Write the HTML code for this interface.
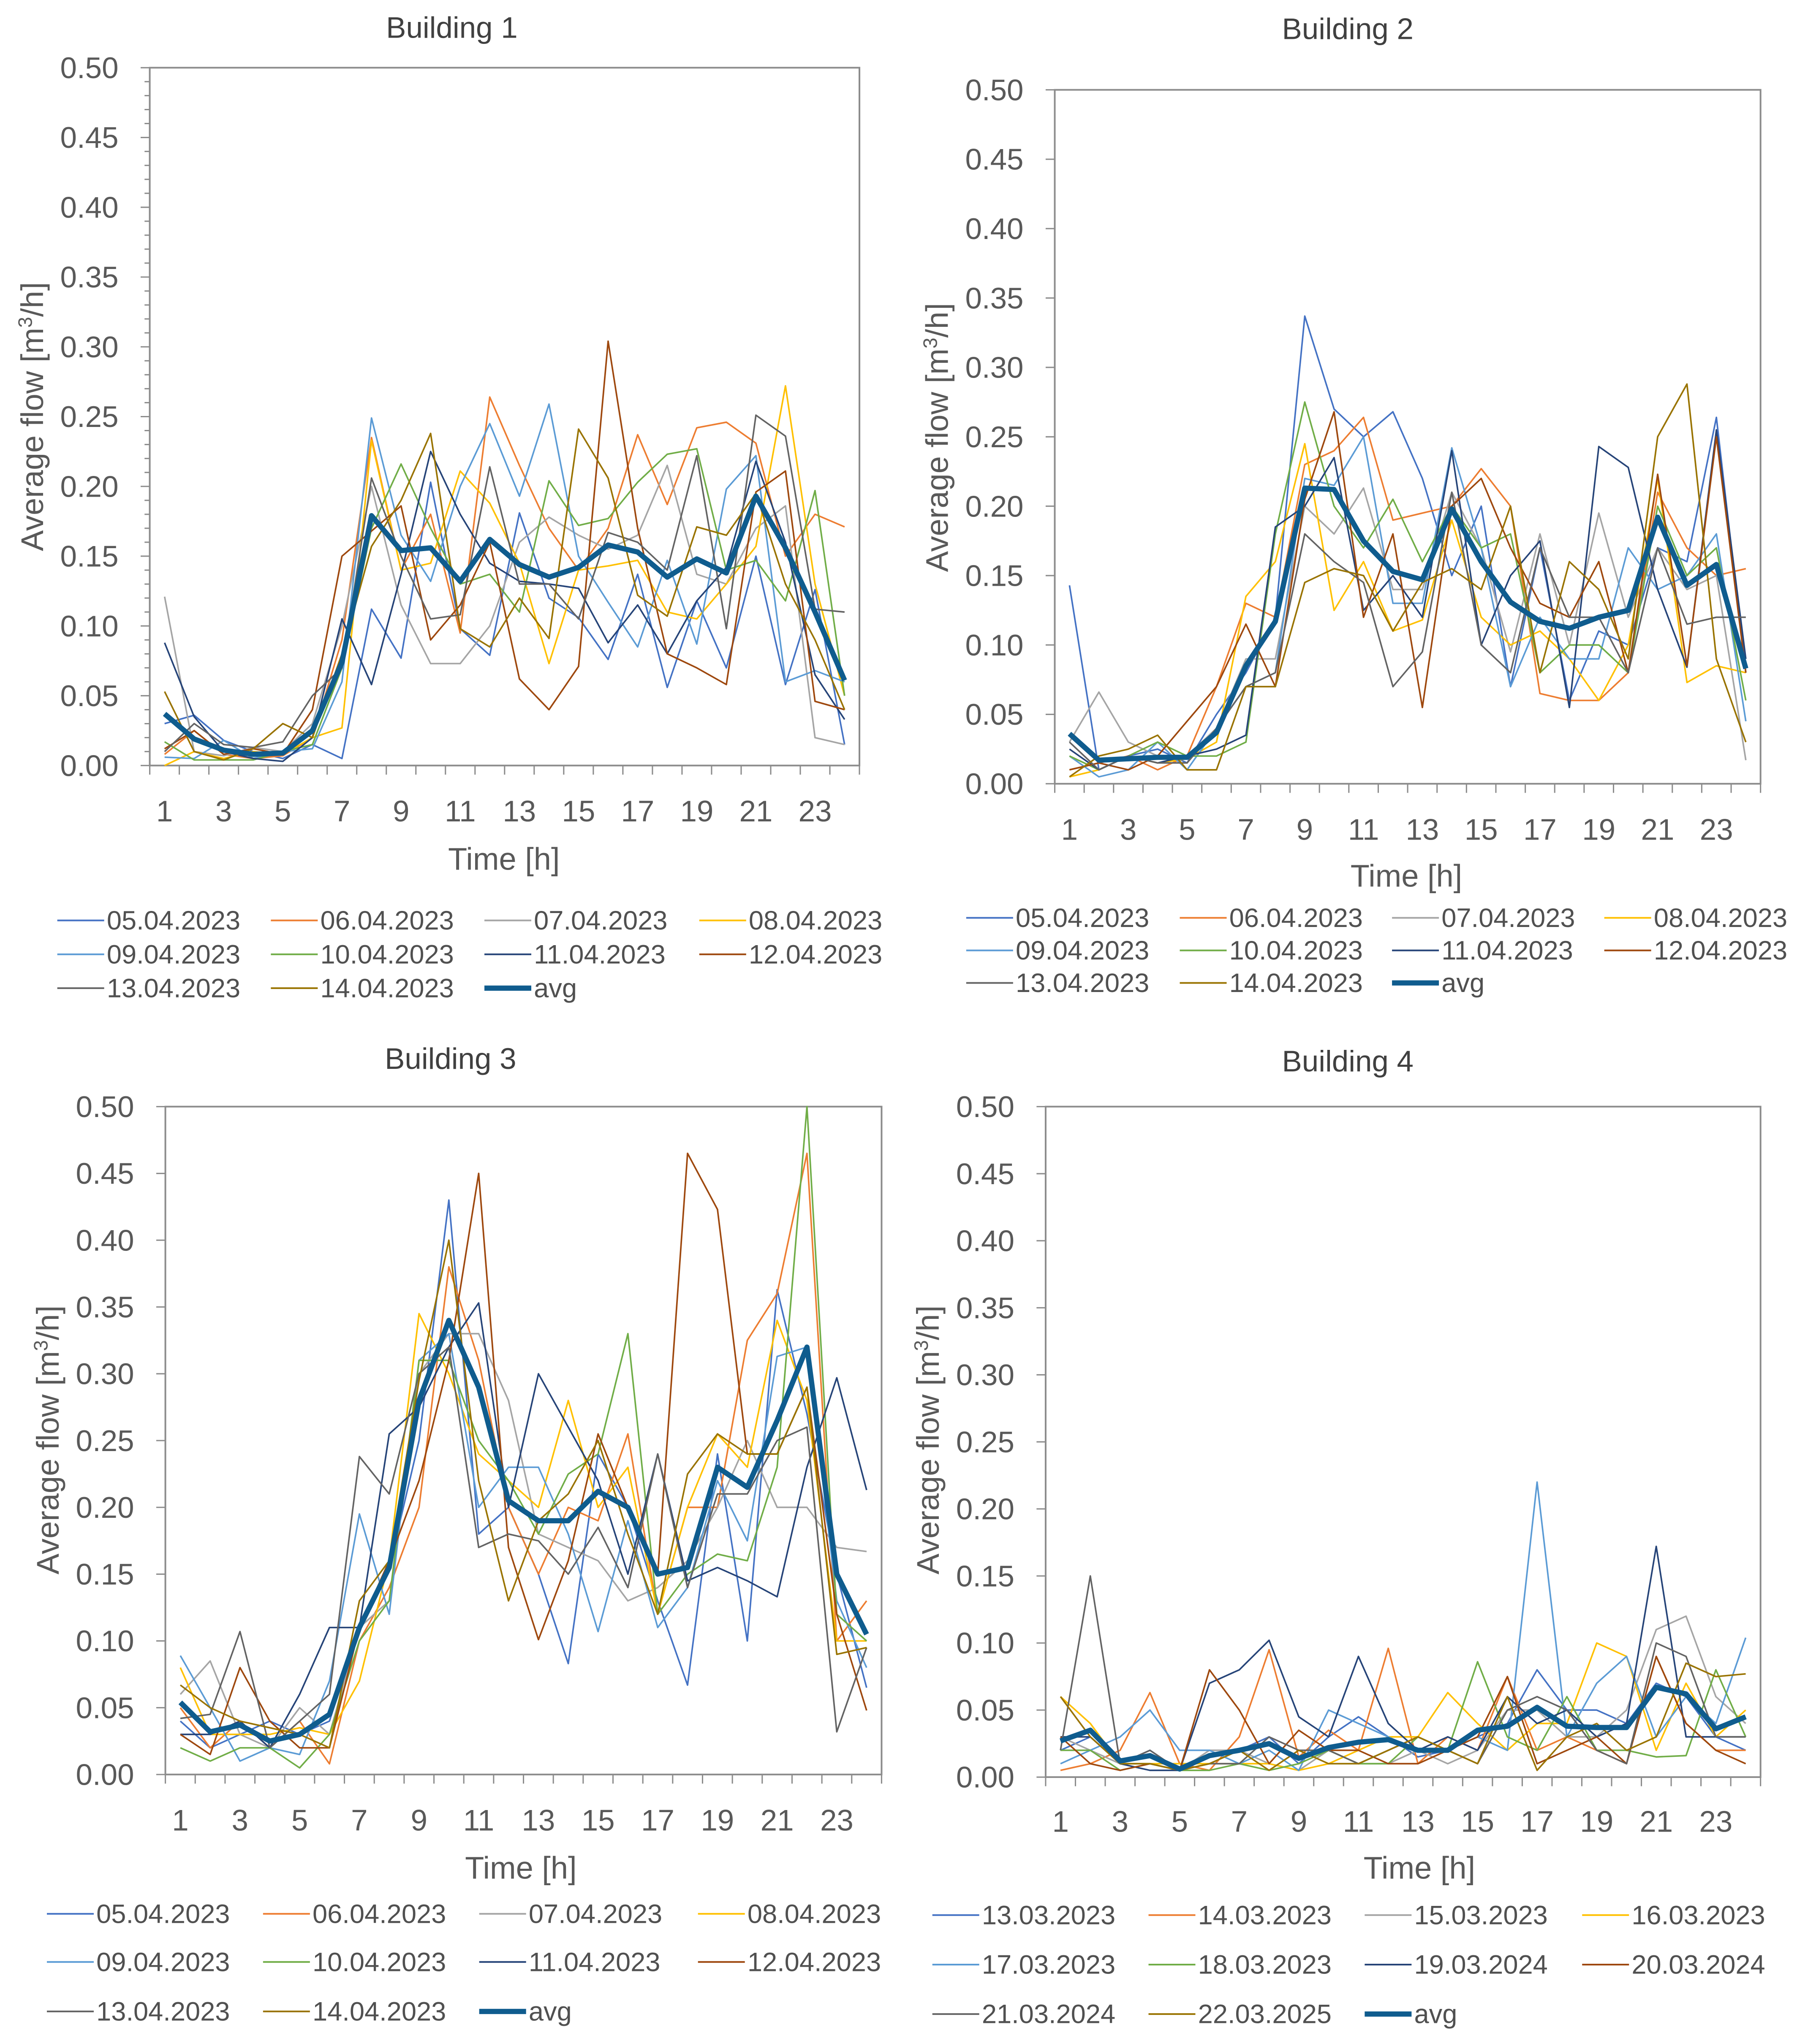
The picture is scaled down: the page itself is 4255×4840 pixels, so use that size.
<!DOCTYPE html>
<html><head><meta charset="utf-8">
<style>
html,body{margin:0;padding:0;background:#fff;}
svg{display:block;font-family:"Liberation Sans",sans-serif;}
</style></head>
<body>
<svg id="chart" width="4255" height="4840" viewBox="0 0 1380 1570" preserveAspectRatio="none" xmlns="http://www.w3.org/2000/svg"></svg>
<script>
const hours = [1,2,3,4,5,6,7,8,9,10,11,12,13,14,15,16,17,18,19,20,21,22,23,24];
const yTicks = [0,0.05,0.10,0.15,0.20,0.25,0.30,0.35,0.40,0.45,0.50];
const colors = ["#4472C4","#ED7D31","#A5A5A5","#FFC000","#5B9BD5","#70AD47","#264478","#9E480E","#636363","#997300"];
const labelsA = ["05.04.2023","06.04.2023","07.04.2023","08.04.2023","09.04.2023","10.04.2023","11.04.2023","12.04.2023","13.04.2023","14.04.2023"];
const labelsB = ["13.03.2023","14.03.2023","15.03.2023","16.03.2023","17.03.2023","18.03.2023","19.03.2024","20.03.2024","21.03.2024","22.03.2025"];

const b1Avg = [.037,.019,.011,.008,.009,.025,.074,.179,.154,.156,.132,.162,.144,.135,.142,.158,.153,.135,.148,.138,.193,.156,.11,.061];
const b1Series = [
[.03,.036,.018,.01,.005,.015,.005,.112,.077,.203,.098,.079,.181,.12,.106,.076,.137,.056,.118,.07,.15,.058,.126,.015],
[.008,.025,.008,.005,.007,.02,.09,.235,.14,.18,.095,.264,.215,.17,.14,.17,.237,.187,.242,.246,.231,.15,.18,.171],
[.121,.01,.007,.013,.01,.03,.1,.2,.115,.073,.073,.1,.16,.178,.165,.155,.165,.215,.137,.13,.17,.186,.02,.015],
[.0,.01,.005,.01,.008,.02,.027,.233,.14,.145,.211,.188,.145,.073,.14,.143,.147,.11,.105,.13,.157,.272,.13,.05],
[.006,.005,.018,.005,.01,.012,.06,.249,.165,.132,.2,.245,.193,.259,.15,.117,.085,.147,.087,.198,.222,.06,.068,.06],
[.017,.004,.004,.004,.01,.015,.07,.17,.216,.17,.13,.137,.11,.204,.172,.177,.203,.223,.227,.14,.147,.118,.197,.05],
[.088,.035,.01,.005,.003,.02,.105,.058,.137,.225,.18,.145,.132,.13,.127,.088,.115,.08,.118,.142,.218,.16,.065,.033],
[.012,.025,.008,.012,.008,.04,.15,.168,.186,.09,.115,.16,.062,.04,.071,.304,.17,.08,.07,.058,.196,.211,.046,.04],
[.01,.03,.015,.013,.017,.05,.07,.206,.15,.105,.108,.214,.13,.13,.105,.167,.16,.14,.222,.098,.251,.236,.112,.11],
[.053,.01,.004,.012,.03,.02,.08,.157,.19,.238,.098,.085,.12,.091,.241,.206,.122,.107,.171,.165,.195,.13,.09,.04]];

const b2Avg = [.036,.017,.018,.019,.019,.037,.085,.117,.213,.212,.175,.153,.147,.198,.16,.131,.117,.112,.12,.125,.192,.143,.158,.083];
const b2Series = [
[.143,.01,.02,.025,.015,.05,.08,.12,.337,.27,.25,.268,.22,.15,.2,.07,.17,.06,.11,.1,.17,.16,.264,.08],
[.01,.015,.02,.01,.02,.07,.13,.12,.23,.24,.264,.19,.195,.2,.227,.2,.065,.06,.06,.08,.21,.17,.15,.155],
[.03,.066,.03,.02,.02,.04,.09,.09,.2,.18,.213,.14,.14,.21,.17,.095,.18,.1,.195,.12,.17,.14,.15,.017],
[.005,.01,.02,.015,.018,.03,.135,.16,.245,.125,.16,.11,.118,.19,.12,.1,.11,.09,.06,.1,.22,.073,.085,.08],
[.02,.005,.01,.03,.01,.04,.07,.08,.22,.215,.25,.13,.13,.242,.17,.07,.12,.09,.09,.17,.14,.15,.18,.045],
[.02,.01,.02,.03,.02,.02,.03,.18,.275,.2,.17,.205,.16,.2,.17,.18,.08,.1,.1,.08,.2,.15,.17,.06],
[.025,.01,.02,.015,.02,.025,.035,.185,.2,.235,.125,.15,.12,.24,.1,.15,.175,.055,.243,.228,.14,.084,.255,.09],
[.01,.015,.01,.02,.045,.07,.115,.07,.205,.268,.12,.18,.055,.2,.22,.17,.13,.12,.16,.08,.223,.085,.25,.08],
[.03,.01,.02,.015,.015,.04,.07,.08,.18,.16,.145,.07,.095,.21,.1,.08,.17,.12,.12,.08,.17,.115,.12,.12],
[.005,.02,.025,.035,.01,.01,.07,.07,.145,.155,.15,.11,.145,.155,.14,.2,.08,.16,.14,.09,.25,.288,.09,.03]];

const b3Avg = [.054,.032,.037,.025,.03,.045,.11,.155,.28,.34,.29,.205,.19,.19,.212,.2,.15,.155,.23,.215,.265,.32,.15,.105];
const b3Series = [
[.04,.02,.03,.04,.03,.04,.11,.155,.25,.43,.18,.2,.15,.083,.24,.2,.13,.067,.24,.1,.363,.27,.15,.065],
[.05,.02,.04,.02,.04,.008,.1,.14,.2,.38,.31,.2,.15,.2,.19,.255,.12,.2,.2,.325,.36,.465,.1,.13],
[.06,.085,.03,.02,.05,.03,.11,.13,.3,.33,.33,.28,.18,.17,.16,.13,.14,.16,.2,.25,.2,.2,.17,.167],
[.08,.03,.03,.03,.035,.03,.07,.16,.345,.3,.24,.22,.2,.28,.2,.23,.12,.2,.255,.23,.34,.28,.1,.1],
[.089,.05,.01,.02,.015,.07,.195,.12,.31,.33,.2,.23,.23,.18,.107,.19,.11,.14,.22,.175,.313,.32,.13,.08],
[.02,.01,.02,.02,.005,.03,.1,.13,.31,.31,.25,.22,.18,.225,.24,.33,.12,.15,.165,.16,.23,.5,.12,.1],
[.03,.03,.04,.02,.06,.11,.11,.255,.275,.32,.353,.2,.3,.26,.22,.15,.24,.145,.155,.145,.133,.23,.297,.213],
[.03,.015,.08,.04,.02,.02,.11,.16,.22,.31,.45,.17,.101,.16,.255,.2,.15,.465,.423,.24,.24,.29,.12,.048],
[.042,.045,.107,.02,.04,.06,.238,.21,.3,.32,.17,.18,.175,.15,.185,.14,.24,.14,.21,.21,.25,.26,.032,.095],
[.067,.05,.04,.035,.03,.02,.13,.16,.295,.4,.22,.13,.19,.21,.25,.18,.12,.225,.255,.24,.24,.29,.09,.095]];

const b4Avg = [.027,.035,.012,.016,.006,.016,.02,.025,.014,.022,.026,.028,.02,.02,.035,.038,.052,.038,.037,.037,.067,.062,.036,.045];
const b4Series = [
[.02,.03,.01,.02,.005,.01,.02,.03,.01,.03,.045,.03,.015,.02,.03,.04,.08,.05,.05,.04,.07,.06,.03,.02],
[.005,.01,.02,.063,.01,.005,.03,.095,.015,.035,.02,.096,.01,.03,.02,.075,.02,.03,.02,.01,.09,.04,.02,.02],
[.03,.02,.01,.01,.005,.02,.02,.01,.005,.02,.01,.01,.02,.01,.02,.05,.05,.03,.03,.05,.11,.12,.06,.04],
[.06,.04,.01,.01,.01,.01,.01,.01,.005,.01,.02,.03,.03,.063,.04,.02,.04,.04,.1,.09,.02,.07,.03,.05],
[.01,.02,.03,.05,.02,.02,.01,.02,.005,.05,.04,.03,.02,.02,.03,.02,.22,.03,.07,.09,.03,.06,.04,.104],
[.02,.02,.005,.01,.005,.005,.01,.005,.01,.02,.01,.01,.03,.02,.086,.03,.02,.06,.02,.02,.015,.016,.08,.03],
[.03,.03,.01,.005,.005,.07,.08,.102,.045,.03,.09,.04,.02,.03,.02,.06,.04,.05,.03,.04,.172,.03,.03,.03],
[.03,.01,.005,.01,.005,.08,.05,.01,.035,.02,.02,.01,.01,.02,.03,.075,.01,.02,.03,.01,.09,.04,.02,.01],
[.02,.15,.01,.02,.005,.01,.01,.03,.02,.02,.01,.02,.03,.02,.01,.05,.06,.05,.02,.01,.1,.09,.03,.03],
[.06,.03,.01,.01,.005,.01,.02,.005,.02,.01,.01,.02,.03,.02,.01,.06,.005,.03,.04,.02,.03,.085,.075,.077]];

const NS = "http://www.w3.org/2000/svg";
const svg = document.getElementById('chart');
function mk(tag, attrs, parent, text){
  const e = document.createElementNS(NS, tag);
  for (const k in attrs) e.setAttribute(k, attrs[k]);
  if (text !== undefined) e.textContent = text;
  parent.appendChild(e);
  return e;
}

function drawPanel(cfg){
  const g = mk('g', {}, svg);
  
  
  const L=cfg.l, R=cfg.r, T=cfg.t, B=cfg.b;
  const step = (R-L)/hours.length;
  const xS = i => L + step*(i+0.5);
  const yS = v => B - (Math.min(v,0.5)/0.5)*(B-T);

  const title = mk('text', {x:cfg.titleX, y:cfg.titleY, 'font-size':23, fill:'#404040', 'text-anchor':'middle'}, g, cfg.title);
  
  

  const frame = mk('rect', {x:L, y:T, width:R-L, height:B-T, fill:'none', stroke:'#8c8c8c', 'stroke-width':1.3}, g);
  
  

  for (let k=0;k<=50;k++){
    const y = B - k/50*(B-T);
    const major = k%5===0;
    if (cfg.minor || major) mk('line', {x1:L-(major?7:4), x2:L, y1:y, y2:y, stroke:'#8c8c8c', 'stroke-width':1}, g);
  }
  yTicks.forEach(v=>{
    const t = mk('text', {x:L-24, y:yS(v)+8, 'font-size':23, fill:'#595959', 'text-anchor':'end'}, g, v.toFixed(2));
    
    
  });
  for (let i=0;i<=hours.length;i++){
    const x = L + step*i;
    mk('line', {x1:x, x2:x, y1:B, y2:B+7, stroke:'#8c8c8c', 'stroke-width':1}, g);
  }
  hours.forEach((h,i)=>{
    if (h%2===1){
      const t = mk('text', {x:xS(i), y:cfg.xlabY, 'font-size':23, fill:'#595959', 'text-anchor':'middle'}, g, String(h));
      
      
    }
  });
  const xt = mk('text', {x:cfg.timeX, y:cfg.timeY, 'font-size':24, fill:'#595959', 'text-anchor':'middle'}, g, 'Time [h]');
  
  
  const yt = mk('text', {x:0, y:0, 'font-size':24, fill:'#595959', 'text-anchor':'middle', transform:`translate(${cfg.yTitleX},${cfg.yTitleY}) rotate(-90)`}, g);
  
  
  mk('tspan', {}, yt, 'Average flow [m');
  mk('tspan', {'baseline-shift':'super','font-size':15}, yt, '3');
  mk('tspan', {}, yt, '/h]');

  cfg.series.forEach((arr,si)=>{
    const pts = arr.map((v,i)=>xS(i).toFixed(1)+','+yS(v).toFixed(1)).join(' ');
    const pl = mk('polyline', {points:pts, fill:'none', stroke:colors[si], 'stroke-width':1.2, 'stroke-linejoin':'round'}, g);
    
    
  });
  const apts = cfg.avg.map((v,i)=>xS(i).toFixed(1)+','+yS(v).toFixed(1)).join(' ');
  const al = mk('polyline', {points:apts, fill:'none', stroke:'#0F5C8E', 'stroke-width':4, 'stroke-linejoin':'round'}, g);
  
  

  const names = cfg.labels.concat(['avg']);
  names.forEach((n,i)=>{
    const col = i%4, row = Math.floor(i/4);
    const x = cfg.legX[col], y = cfg.legY[row];
    const le = mk('g', {}, g);
    
    
    const isAvg = n==='avg';
    mk('line', {x1:x, x2:x+36, y1:y, y2:y, stroke:isAvg?'#0F5C8E':colors[i], 'stroke-width':isAvg?4:1.3}, le);
    mk('text', {x:x+38, y:y+7, 'font-size':20.5, fill:'#505050'}, le, n);
  });
}

drawPanel({id:'building-1-chart', title:'Building 1', titleX:347, l:115, r:660, t:52, b:588, titleY:29, xlabY:631, timeX:387, timeY:668, yTitleX:33, yTitleY:320, minor:true,
  series:b1Series, avg:b1Avg, labels:labelsA, legX:[44,208,372,537], legY:[707,733,759]});
drawPanel({id:'building-2-chart', title:'Building 2', titleX:1035, l:810, r:1352, t:69, b:602, titleY:30, xlabY:645, timeX:1080, timeY:681, yTitleX:728, yTitleY:336, minor:false,
  series:b2Series, avg:b2Avg, labels:labelsA, legX:[742,906,1069,1232], legY:[705,730,755]});
drawPanel({id:'building-3-chart', title:'Building 3', titleX:346, l:127, r:677, t:850, b:1363, titleY:821, xlabY:1406, timeX:400, timeY:1443, yTitleX:45, yTitleY:1106, minor:false,
  series:b3Series, avg:b3Avg, labels:labelsA, legX:[36,202,368,536], legY:[1470,1507,1545]});
drawPanel({id:'building-4-chart', title:'Building 4', titleX:1035, l:803, r:1352, t:850, b:1365, titleY:823, xlabY:1407, timeX:1090, timeY:1443, yTitleX:721, yTitleY:1106, minor:false,
  series:b4Series, avg:b4Avg, labels:labelsB, legX:[716,882,1048,1215], legY:[1471,1509,1547]});
</script>
</body></html>
